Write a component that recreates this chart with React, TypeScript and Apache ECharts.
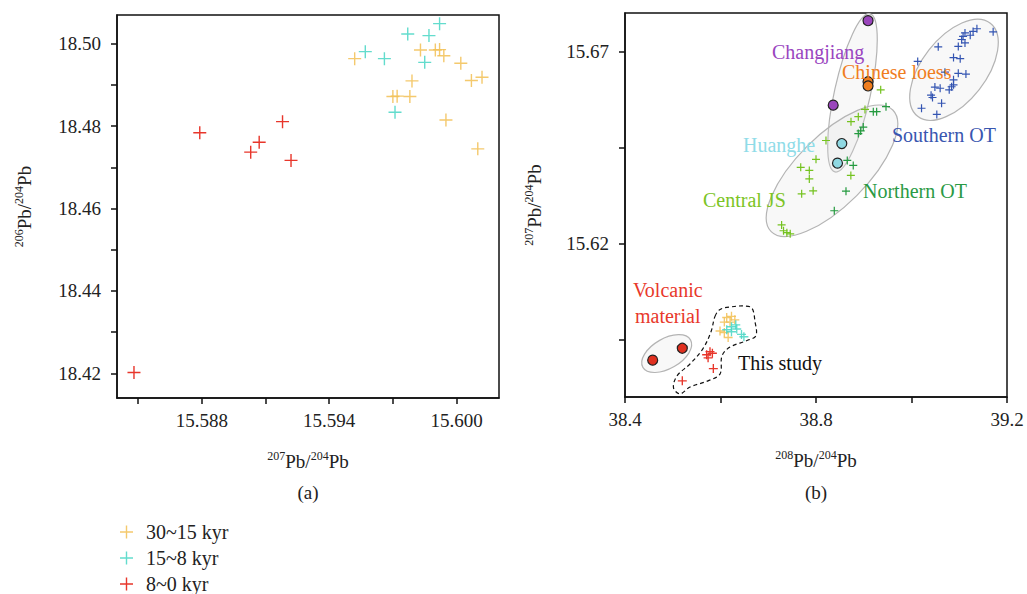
import React, { useEffect, useRef } from "react";
import * as echarts from "echarts";

const FONT = "Liberation Serif";

// ---------- Panel (a): 207Pb/204Pb (x) vs 206Pb/204Pb (y) ----------
const leftYellow: number[][] = [
  [15.5952, 18.4964], [15.5983, 18.4985], [15.599, 18.4985], [15.5992, 18.4986],
  [15.5994, 18.4971], [15.6002, 18.4953], [15.6007, 18.4911], [15.6012, 18.4919],
  [15.5979, 18.491], [15.597, 18.4872], [15.5972, 18.4873], [15.5978, 18.4872],
  [15.5995, 18.4815], [15.601, 18.4745],
];
const leftCyan: number[][] = [
  [15.5992, 18.5049], [15.5977, 18.5024], [15.5987, 18.502], [15.5957, 18.4981],
  [15.5966, 18.4964], [15.5985, 18.4955], [15.5971, 18.4834],
];
const leftRed: number[][] = [
  [15.5848, 18.4202], [15.5879, 18.4784], [15.5903, 18.4737], [15.5907, 18.4761],
  [15.5918, 18.4811], [15.5922, 18.4717],
];
const leftXTicks = [15.585, 15.588, 15.591, 15.594, 15.597, 15.6];
const leftXLabels = [15.588, 15.594, 15.6];
const leftYTicks = [18.42, 18.43, 18.44, 18.45, 18.46, 18.47, 18.48, 18.49, 18.5];
const leftYLabels = [18.42, 18.44, 18.46, 18.48, 18.5];

// ---------- Panel (b): 208Pb/204Pb (x) vs 207Pb/204Pb (y) ----------
const rightYellow: number[][] = [
  [38.613, 15.6007], [38.623, 15.601], [38.608, 15.5995], [38.62, 15.5995],
  [38.63, 15.6001], [38.599, 15.5972], [38.608, 15.5968], [38.616, 15.5955],
];
const rightCyan: number[][] = [
  [38.623, 15.5983], [38.632, 15.5988], [38.634, 15.5977], [38.623, 15.597],
  [38.644, 15.5963], [38.649, 15.5957], [38.613, 15.5975],
];
const rightRed: number[][] = [
  [38.578, 15.5918], [38.571, 15.591], [38.583, 15.5914], [38.574, 15.5902],
  [38.585, 15.5874], [38.52, 15.5842],
];
const southernOT: number[][] = [
  [39.171, 15.6751], [39.137, 15.6759], [39.129, 15.6752], [39.112, 15.6748],
  [39.123, 15.6742], [39.108, 15.6739], [39.105, 15.6731], [39.112, 15.6722],
  [39.098, 15.6713], [39.056, 15.6712], [39.088, 15.6684], [39.102, 15.6681],
  [39.013, 15.6674], [39.07, 15.6646], [39.098, 15.6643], [39.114, 15.6641],
  [39.088, 15.6626], [39.088, 15.6613], [39.049, 15.6607], [39.06, 15.6604],
  [39.079, 15.66], [39.084, 15.6608], [39.041, 15.6586], [39.044, 15.658],
  [39.063, 15.6565], [39.021, 15.6552], [39.053, 15.6536],
];
const centralJS: number[][] = [
  [38.9355, 15.66], [38.9026, 15.6549], [38.8886, 15.653], [38.8733, 15.6517],
  [38.8209, 15.6468], [38.8, 15.6419], [38.768, 15.6398], [38.786, 15.639],
  [38.786, 15.6368], [38.77, 15.6329], [38.794, 15.6337], [38.873, 15.6377],
  [38.728, 15.6248], [38.732, 15.6233], [38.739, 15.6228], [38.746, 15.6225],
];
const northernOT: number[][] = [
  [38.9466, 15.6556], [38.927, 15.6543], [38.92, 15.6543], [38.899, 15.6503],
  [38.8936, 15.6493], [38.8886, 15.6486], [38.8655, 15.6416], [38.878, 15.6403],
  [38.8628, 15.6336], [38.8383, 15.6285],
];
const changjiang: number[][] = [[38.909, 15.678], [38.836, 15.656]];
const chineseLoess: number[][] = [[38.909, 15.6621], [38.909, 15.661]];
const huanghe: number[][] = [[38.854, 15.646], [38.845, 15.6409]];
const volcanic: number[][] = [[38.458, 15.5896], [38.52, 15.5927]];
const rightXTicks = [38.4, 38.6, 38.8, 39.0, 39.2];
const rightXLabels = [38.4, 38.8, 39.2];
const rightYTicks = [15.595, 15.62, 15.645, 15.67];
const rightYLabels = [15.62, 15.67];

// field outlines: centre in data units, radii (px) and tilt (deg)
const ellipses: number[][] = [
  [39.089, 15.6652, 59, 32, 52],
  [38.8764, 15.6592, 81, 18, 77.5],
  [38.8335, 15.6389, 86, 35, 45],
  [38.4873, 15.5913, 27.5, 15, 30],
];
const studyOutline: number[][] = [
  [38.5885, 15.601], [38.599, 15.6028], [38.6241, 15.6035], [38.6513, 15.6037],
  [38.666, 15.6031], [38.6722, 15.5997], [38.6743, 15.596], [38.6555, 15.5947],
  [38.6199, 15.593], [38.6031, 15.5907], [38.599, 15.586], [38.5738, 15.5842],
  [38.5361, 15.5826], [38.5152, 15.5808], [38.5016, 15.5824], [38.5089, 15.5855],
  [38.5361, 15.5886], [38.5633, 15.5926], [38.5801, 15.597],
];

const legendNames = ["30~15 kyr", "15~8 kyr", "8~0 kyr"];
const C_YEL = "rgba(242,192,84,0.85)";
const C_CYA = "rgba(72,214,196,0.85)";
const C_RED = "#E8362B";

const CROSS_THIN = "path://M0,10.7h24v2.6h-24z M10.7,0h2.6v24h-2.6z";
const CROSS_MED = "path://M0,10.2h24v3.6h-24z M10.2,0h3.6v24h-3.6z";

const rich = {
  b: { fontSize: 19, fontFamily: FONT, color: "#222" },
  s: { fontSize: 12, fontFamily: FONT, color: "#222", padding: [0, 0, 10, 0] },
};
const nm = (a: string, b: string) => `{s|${a}}{b|Pb/}{s|${b}}{b|Pb}`;

function valAxis(o: any) {
  return {
    type: "value",
    gridIndex: o.grid,
    min: o.min,
    max: o.max,
    axisLine: { show: true, onZero: false, lineStyle: { color: "#111", width: 1.5 } },
    axisTick: { show: true, length: 6, customValues: o.ticks, lineStyle: { color: "#111", width: 1.5 } },
    axisLabel: {
      customValues: o.labels,
      formatter: (v: number) => v.toFixed(o.dec),
      fontSize: 19,
      fontFamily: FONT,
      color: "#222",
      margin: o.margin,
    },
    splitLine: { show: false },
    name: o.name,
    nameLocation: "middle",
    nameGap: o.nameGap,
    nameTextStyle: { fontFamily: FONT, fontSize: 19, rich },
  };
}

const scatter = (name: string, data: number[][], axis: number, symbol: string, size: number, color: string, extra: any = {}) => ({
  type: "scatter",
  name,
  data,
  xAxisIndex: axis,
  yAxisIndex: axis,
  symbol,
  symbolSize: size,
  itemStyle: { color, opacity: 1, ...(extra.itemStyle || {}) },
  z: extra.z ?? 3,
  emphasis: { disabled: true },
});

export default function App() {
  const ref = useRef<HTMLDivElement>(null);
  useEffect(() => {
    if (!ref.current) return;
    const chart = echarts.init(ref.current, null, { renderer: "svg" });
    const labelText = (text: string, x: number, y: number, color: string) => ({
      type: "text",
      x,
      y,
      style: { text, fill: color, fontSize: 20, fontFamily: FONT, textVerticalAlign: "middle" },
      z: 10,
    });
    chart.setOption({
      animation: false,
      textStyle: { fontFamily: FONT },
      grid: [
        { left: 117, top: 15, width: 382, height: 383, show: true, borderColor: "#111", borderWidth: 1.5, outerBoundsMode: "none" },
        { left: 625, top: 13, width: 382, height: 384, show: true, borderColor: "#111", borderWidth: 1.5, outerBoundsMode: "none" },
      ],
      xAxis: [
        valAxis({ grid: 0, min: 15.584, max: 15.602, ticks: leftXTicks, labels: leftXLabels, dec: 3, margin: 13, name: nm("207", "204"), nameGap: 52 }),
        valAxis({ grid: 1, min: 38.4, max: 39.2, ticks: rightXTicks, labels: rightXLabels, dec: 1, margin: 13, name: nm("208", "204"), nameGap: 52 }),
      ],
      yAxis: [
        valAxis({ grid: 0, min: 18.414, max: 18.507, ticks: leftYTicks, labels: leftYLabels, dec: 2, margin: 16, name: nm("206", "204"), nameGap: 82 }),
        valAxis({ grid: 1, min: 15.58, max: 15.68, ticks: rightYTicks, labels: rightYLabels, dec: 2, margin: 16, name: nm("207", "204"), nameGap: 80 }),
      ],
      legend: {
        data: legendNames,
        orient: "vertical",
        left: 115,
        top: 517,
        height: 120,
        itemWidth: 13,
        itemHeight: 13,
        itemGap: 6,
        selectedMode: false,
        textStyle: { fontSize: 20, fontFamily: FONT, color: "#222", padding: [0, 0, 0, 8] },
      },
      graphic: [
        { type: "text", x: 308, y: 492, style: { text: "(a)", fontSize: 19, fontFamily: FONT, fill: "#222", textAlign: "center", textVerticalAlign: "middle" } },
        { type: "text", x: 816, y: 492, style: { text: "(b)", fontSize: 19, fontFamily: FONT, fill: "#222", textAlign: "center", textVerticalAlign: "middle" } },
        labelText("Changjiang", 772, 52, "#9A45C0"),
        labelText("Chinese loess", 842, 72, "#F07E1E"),
        labelText("Huanghe", 743, 145, "#8FDCE8"),
        labelText("Southern OT", 892, 135, "#3956B0"),
        labelText("Central JS", 703, 200, "#7CC425"),
        labelText("Northern OT", 863, 191, "#2A9A45"),
        labelText("Volcanic", 633, 290, "#E8382B"),
        labelText("material", 635, 316, "#E8382B"),
        labelText("This study", 738, 363, "#111"),
      ],
      series: [
        scatter(legendNames[0], leftYellow, 0, CROSS_THIN, 13, C_YEL),
        scatter(legendNames[1], leftCyan, 0, CROSS_THIN, 13, C_CYA),
        scatter(legendNames[2], leftRed, 0, CROSS_THIN, 13, C_RED),
        {
          type: "custom",
          xAxisIndex: 1,
          yAxisIndex: 1,
          data: ellipses,
          z: 1,
          silent: true,
          renderItem: (_p: any, api: any) => {
            const c = api.coord([api.value(0), api.value(1)]);
            return {
              type: "ellipse",
              x: c[0],
              y: c[1],
              rotation: (api.value(4) * Math.PI) / 180,
              shape: { cx: 0, cy: 0, rx: api.value(2), ry: api.value(3) },
              style: { fill: "rgba(225,225,225,0.22)", stroke: "#b4b4b4", lineWidth: 1.2 },
            };
          },
        },
        {
          type: "custom",
          xAxisIndex: 1,
          yAxisIndex: 1,
          data: [studyOutline[0]],
          z: 2,
          silent: true,
          renderItem: (_p: any, api: any) => ({
            type: "polygon",
            shape: { points: studyOutline.map((p) => api.coord(p)), smooth: 0.35 },
            style: { fill: "none", stroke: "#111", lineWidth: 1.2, lineDash: [4, 3] },
          }),
        },
        scatter("Central JS", centralJS, 1, CROSS_MED, 8, "#74C21F"),
        scatter("Northern OT", northernOT, 1, CROSS_MED, 8, "#249A3F"),
        scatter("Southern OT", southernOT, 1, CROSS_MED, 8, "#3455B2"),
        scatter(legendNames[0], rightYellow, 1, CROSS_MED, 9, C_YEL),
        scatter(legendNames[1], rightCyan, 1, CROSS_MED, 9, C_CYA),
        scatter(legendNames[2], rightRed, 1, CROSS_MED, 9, C_RED),
        scatter("Changjiang", changjiang, 1, "circle", 10, "#9A45BC", { itemStyle: { borderColor: "#222", borderWidth: 1.2 }, z: 4 }),
        scatter("Chinese loess", chineseLoess, 1, "circle", 10, "#F07E1E", { itemStyle: { borderColor: "#222", borderWidth: 1.2 }, z: 4 }),
        scatter("Huanghe", huanghe, 1, "circle", 10, "#8FD8E2", { itemStyle: { borderColor: "#222", borderWidth: 1.2 }, z: 4 }),
        scatter("Volcanic material", volcanic, 1, "circle", 10, "#E0301F", { itemStyle: { borderColor: "#222", borderWidth: 1.2 }, z: 4 }),
      ],
    });
    return () => chart.dispose();
  }, []);
  return <div ref={ref} style={{ width: 1027, height: 594, position: "absolute", left: 0, top: 0 }} />;
}
